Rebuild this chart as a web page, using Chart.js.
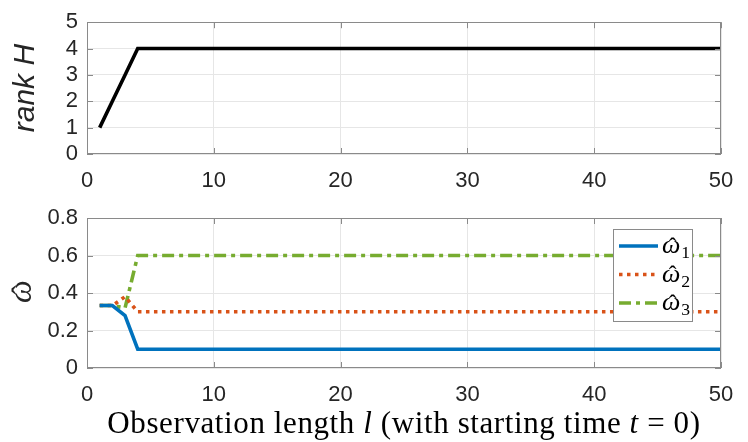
<!DOCTYPE html>
<html>
<head>
<meta charset="utf-8">
<script src="https://cdn.jsdelivr.net/npm/chart.js@4/dist/chart.umd.min.js"></script>
<style>
  html, body { margin: 0; padding: 0; background: #fff; }
  #wrap { position: relative; width: 748px; height: 442px; }
  .box { position: absolute; left: 0; width: 748px; }
</style>
</head>
<body>
<div id="wrap">
  <div class="box" style="top:0;height:190px"><canvas id="rankChart" width="748" height="190"></canvas></div>
  <div class="box" style="top:190px;height:252px"><canvas id="omegaChart" width="748" height="252"></canvas></div>
</div>
<script>
// observation length l
var lengths = [1, 2, 3, 4, 5, 6, 7, 8, 9, 10, 11, 12, 13, 14, 15, 16, 17, 18, 19, 20,
               21, 22, 23, 24, 25, 26, 27, 28, 29, 30, 31, 32, 33, 34, 35, 36, 37, 38, 39, 40,
               41, 42, 43, 44, 45, 46, 47, 48, 49, 50];
var rankH = [1, 2, 3, 4, 4, 4, 4, 4, 4, 4, 4, 4, 4, 4, 4, 4, 4, 4, 4, 4,
             4, 4, 4, 4, 4, 4, 4, 4, 4, 4, 4, 4, 4, 4, 4, 4, 4, 4, 4, 4,
             4, 4, 4, 4, 4, 4, 4, 4, 4, 4];
var omega1 = [0.333, 0.333, 0.28, 0.1, 0.1, 0.1, 0.1, 0.1, 0.1, 0.1, 0.1, 0.1, 0.1, 0.1, 0.1, 0.1, 0.1, 0.1, 0.1, 0.1,
              0.1, 0.1, 0.1, 0.1, 0.1, 0.1, 0.1, 0.1, 0.1, 0.1, 0.1, 0.1, 0.1, 0.1, 0.1, 0.1, 0.1, 0.1, 0.1, 0.1,
              0.1, 0.1, 0.1, 0.1, 0.1, 0.1, 0.1, 0.1, 0.1, 0.1];
var omega2 = [0.333, 0.333, 0.38, 0.3, 0.3, 0.3, 0.3, 0.3, 0.3, 0.3, 0.3, 0.3, 0.3, 0.3, 0.3, 0.3, 0.3, 0.3, 0.3, 0.3,
              0.3, 0.3, 0.3, 0.3, 0.3, 0.3, 0.3, 0.3, 0.3, 0.3, 0.3, 0.3, 0.3, 0.3, 0.3, 0.3, 0.3, 0.3, 0.3, 0.3,
              0.3, 0.3, 0.3, 0.3, 0.3, 0.3, 0.3, 0.3, 0.3, 0.3];
var omega3 = [0.333, 0.333, 0.32, 0.6, 0.6, 0.6, 0.6, 0.6, 0.6, 0.6, 0.6, 0.6, 0.6, 0.6, 0.6, 0.6, 0.6, 0.6, 0.6, 0.6,
              0.6, 0.6, 0.6, 0.6, 0.6, 0.6, 0.6, 0.6, 0.6, 0.6, 0.6, 0.6, 0.6, 0.6, 0.6, 0.6, 0.6, 0.6, 0.6, 0.6,
              0.6, 0.6, 0.6, 0.6, 0.6, 0.6, 0.6, 0.6, 0.6, 0.6];
// omega hat with subscript index
var omegaLabels = ['\u03C9\u0302\u2081', '\u03C9\u0302\u2082', '\u03C9\u0302\u2083'];
var omegaTitle = '\u03C9\u0302';

var xTicks = [0, 10, 20, 30, 40, 50];
var rankTicks = ['0', '1', '2', '3', '4', '5'];
var omegaTicks = ['0', '0.2', '0.4', '0.6', '0.8'];

var TXT = '#262626';
var SANS = '"Liberation Sans", Arial, sans-serif';
var SERIF = '"Liberation Serif", "DejaVu Serif", serif';
var SUBS = {'\u2081': '1', '\u2082': '2', '\u2083': '3'};

function pts(ys) {
    return ys.map(function (y, i) { return {x: lengths[i], y: y}; });
}

// draws a label like ω̂₁ : italic base, hat on top, upright subscript
function drawHatLabel(ctx, text, x, y, size) {
    var base = text.charAt(0);
    var sub = SUBS[text.charAt(text.length - 1)];
    ctx.font = 'italic ' + size + 'px ' + SERIF;
    ctx.textBaseline = 'alphabetic';
    ctx.textAlign = 'left';
    ctx.fillText(base, x, y);
    var w = ctx.measureText(base).width;
    ctx.font = (size * 0.9) + 'px ' + SERIF;
    ctx.textAlign = 'center';
    ctx.fillText('\u02C6', x + w * 0.58, y + size * 0.02);
    if (sub) {
        ctx.font = (size * 0.68) + 'px ' + SERIF;
        ctx.textAlign = 'left';
        ctx.fillText(sub, x + w + 1, y + size * 0.2);
    }
}

// axes box plus inward ticks on all four sides (matlab style)
var boxPlugin = {
    id: 'box',
    afterDraw: function (chart) {
        var a = chart.chartArea, ctx = chart.ctx;
        var xs = chart.scales.x, ys = chart.scales.y;
        ctx.save();
        ctx.strokeStyle = '#8a8a8a';
        ctx.lineWidth = 1;
        ctx.strokeRect(Math.round(a.left) + 0.5, Math.round(a.top) + 0.5,
                       Math.round(a.right - a.left) - 1, Math.round(a.bottom - a.top) - 1);
        ctx.beginPath();
        xs.ticks.forEach(function (t) {
            var px = Math.round(xs.getPixelForValue(t.value)) + 0.5;
            ctx.moveTo(px, a.bottom); ctx.lineTo(px, a.bottom - 6);
            ctx.moveTo(px, a.top); ctx.lineTo(px, a.top + 6);
        });
        ys.ticks.forEach(function (t) {
            var py = Math.round(ys.getPixelForValue(t.value)) + 0.5;
            ctx.moveTo(a.left, py); ctx.lineTo(a.left + 6, py);
            ctx.moveTo(a.right, py); ctx.lineTo(a.right - 6, py);
        });
        ctx.stroke();
        ctx.restore();
    }
};

// legend in the top right corner of the plot + rotated omega title
var omegaDecor = {
    id: 'omegaDecor',
    afterDraw: function (chart) {
        var a = chart.chartArea, ctx = chart.ctx;
        var w = 79, h = 92;
        var x0 = a.right - 29 - w, y0 = a.top + 11;
        ctx.save();
        ctx.fillStyle = '#fff';
        ctx.fillRect(x0, y0, w, h);
        ctx.strokeStyle = '#8a8a8a';
        ctx.lineWidth = 1;
        ctx.strokeRect(Math.round(x0) + 0.5, Math.round(y0) + 0.5, w, h);
        chart.data.datasets.forEach(function (ds, i) {
            var yy = y0 + 17 + i * 28.5;
            ctx.strokeStyle = ds.borderColor;
            ctx.lineWidth = ds.borderWidth;
            ctx.setLineDash(ds.borderDash || []);
            ctx.beginPath();
            ctx.moveTo(x0 + 6, yy); ctx.lineTo(x0 + 45, yy);
            ctx.stroke();
            ctx.setLineDash([]);
            ctx.fillStyle = '#000';
            drawHatLabel(ctx, ds.label, x0 + 49, yy + 7, 26);
        });
        // y title
        ctx.translate(31, (a.top + a.bottom) / 2 + 10);
        ctx.rotate(-Math.PI / 2);
        ctx.fillStyle = TXT;
        drawHatLabel(ctx, omegaTitle, 0, 0, 32);
        ctx.restore();
    }
};

// x axis title with italic l and t
var xTitle = {
    id: 'xTitle',
    afterDraw: function (chart) {
        var a = chart.chartArea, ctx = chart.ctx;
        var parts = [['Observation length ', ''], ['l', 'italic '], [' (with starting time ', ''],
                     ['t', 'italic '], [' = 0)', '']];
        ctx.save();
        ctx.fillStyle = '#000';
        ctx.textBaseline = 'alphabetic';
        ctx.letterSpacing = '0.6px';
        var total = 0;
        parts.forEach(function (p) { ctx.font = p[1] + '31px ' + SERIF; total += ctx.measureText(p[0]).width; });
        var x = (a.left + a.right) / 2 - total / 2;
        parts.forEach(function (p) {
            ctx.font = p[1] + '31px ' + SERIF;
            ctx.fillText(p[0], x, 243);
            x += ctx.measureText(p[0]).width;
        });
        ctx.restore();
    }
};

function xScale(height) {
    return {
        type: 'linear', min: 0, max: 50,
        afterBuildTicks: function (s) { s.ticks = xTicks.map(function (v) { return {value: v}; }); },
        afterFit: function (s) { s.height = height; },
        grid: {color: '#e6e6e6', drawTicks: false},
        border: {display: false},
        ticks: {color: TXT, font: {family: SANS, size: 22}, padding: 14, maxRotation: 0, autoSkip: false}
    };
}

function yScale(max, step, labels, title) {
    return {
        min: 0, max: max,
        ticks: {stepSize: step, color: TXT, font: {family: SANS, size: 22}, padding: 9, autoSkip: false,
                callback: function (v, i) { return labels[i]; }},
        afterFit: function (s) { s.width = 87; },
        grid: {color: '#e6e6e6', drawTicks: false},
        border: {display: false},
        title: title
    };
}

new Chart(document.getElementById('rankChart'), {
    type: 'line',
    data: {
        datasets: [{data: pts(rankH), borderColor: '#000', borderWidth: 3.6, pointRadius: 0, tension: 0}]
    },
    options: {
        responsive: false, animation: false,
        layout: {padding: {top: 10, right: 27, left: 0, bottom: 0}},
        plugins: {legend: {display: false}, tooltip: {enabled: false}},
        scales: {
            x: xScale(36),
            y: yScale(5, 1, rankTicks, {display: true, text: 'rank H', color: TXT,
                      font: {family: SANS, size: 30, style: 'italic'}, padding: {top: 8, bottom: 0}})
        }
    },
    plugins: [boxPlugin]
});

new Chart(document.getElementById('omegaChart'), {
    type: 'line',
    data: {
        datasets: [
            {label: omegaLabels[0], data: pts(omega1), borderColor: '#0072BD', borderWidth: 3.6, pointRadius: 0},
            {label: omegaLabels[1], data: pts(omega2), borderColor: '#D95319', borderWidth: 3.6, pointRadius: 0,
             borderDash: [3.5, 4.5]},
            {label: omegaLabels[2], data: pts(omega3), borderColor: '#77AC30', borderWidth: 3.6, pointRadius: 0,
             borderDash: [12, 5, 4, 5]}
        ]
    },
    options: {
        responsive: false, animation: false,
        layout: {padding: {top: 28, right: 27, left: 0, bottom: 0}},
        plugins: {legend: {display: false}, tooltip: {enabled: false}},
        scales: {
            x: xScale(74),
            y: yScale(0.8, 0.2, omegaTicks, {display: false})
        }
    },
    plugins: [boxPlugin, omegaDecor, xTitle]
});
</script>
</body>
</html>
